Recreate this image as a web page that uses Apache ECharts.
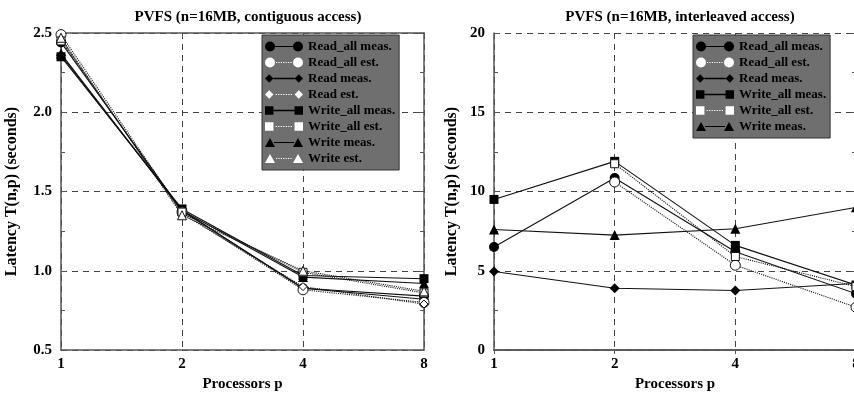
<!DOCTYPE html>
<html>
<head>
<meta charset="utf-8">
<script src="https://cdn.jsdelivr.net/npm/echarts@6/dist/echarts.min.js"></script>
<style>
  html, body { margin: 0; padding: 0; background: #fff; }
  #chart { width: 854px; height: 394px; }
</style>
</head>
<body>
<div id="chart"></div>
<script>
// Processor counts (log2-spaced x axis)
const procs = [1, 2, 4, 8];

// Contiguous access latencies (seconds)
const contReadAllMeas  = [2.44, 1.38, 0.89, 0.84];
const contReadAllEst   = [2.49, 1.37, 0.88, 0.80];
const contReadMeas     = [2.36, 1.38, 0.89, 0.82];
const contReadEst      = [2.46, 1.36, 0.90, 0.79];
const contWriteAllMeas = [2.35, 1.39, 0.97, 0.95];
const contWriteAllEst  = [2.45, 1.37, 0.99, 0.86];
const contWriteMeas    = [2.37, 1.38, 0.96, 0.92];
const contWriteEst     = [2.47, 1.35, 1.00, 0.87];

// Interleaved access latencies (seconds); estimates start at p=2
const intReadAllMeas  = [6.5, 10.85, 6.2, 3.55];
const intReadAllEst   = [null, 10.6, 5.35, 2.7];
const intReadMeas     = [4.95, 3.9, 3.75, 4.2];
const intWriteAllMeas = [9.5, 11.9, 6.6, 4.1];
const intWriteAllEst  = [null, 11.75, 5.9, 4.0];
const intWriteMeas    = [7.6, 7.25, 7.65, 9.0];

const leftTicks = [0.5, 1.0, 1.5, 2.0, 2.5];
const rightTicks = [0, 5, 10, 15, 20];

const FONT = 'Liberation Serif';

// series descriptors: marker shape, estimate (open marker + dotted line)
const kinds = {
  'Read_all meas.':  { shape: 'circle',   est: false, size: 10 },
  'Read_all est.':   { shape: 'circle',   est: true,  size: 10 },
  'Read meas.':      { shape: 'diamond',  est: false, size: 10 },
  'Read est.':       { shape: 'diamond',  est: true,  size: 8 },
  'Write_all meas.': { shape: 'rect',     est: false, size: 9 },
  'Write_all est.':  { shape: 'rect',     est: true,  size: 8 },
  'Write meas.':     { shape: 'triangle', est: false, size: 10 },
  'Write est.':      { shape: 'triangle', est: true,  size: 9 }
};

function pairs(vals) {
  return procs.map((p, i) => [p, vals[i]]);
}

function makeSeries(name, vals, idx) {
  const k = kinds[name];
  return {
    name: name,
    type: 'line',
    xAxisIndex: idx * 2,
    yAxisIndex: idx * 2,
    data: pairs(vals),
    symbol: k.shape,
    symbolSize: k.size,
    connectNulls: false,
    lineStyle: { color: '#111', width: 1.1, type: k.est ? 'dotted' : 'solid' },
    itemStyle: k.est
      ? { color: '#fff', borderColor: '#111', borderWidth: 1 }
      : { color: '#000', borderColor: '#000', borderWidth: 0 },
    emphasis: { disabled: true },
    z: k.est ? 4 : 3
  };
}

// legend glyph: marker, line, marker in a 38x10 box
function markerPath(shape, cx) {
  switch (shape) {
    case 'circle':
      return `M${cx - 5},5 A5,5 0 1,1 ${cx + 5},5 A5,5 0 1,1 ${cx - 5},5 Z `;
    case 'rect':
      return `M${cx - 4},1 L${cx + 4},1 L${cx + 4},9 L${cx - 4},9 Z `;
    case 'diamond':
      return `M${cx},1 L${cx + 4},5 L${cx},9 L${cx - 4},5 Z `;
    default:
      return `M${cx},0.5 L${cx + 5},9.5 L${cx - 5},9.5 Z `;
  }
}
function legendIcon(name) {
  const k = kinds[name];
  let d = markerPath(k.shape, 5) + markerPath(k.shape, 33);
  if (k.est) {
    for (let x = 11; x < 27.5; x += 2.4) {
      d += `M${x},4.5 L${x + 1.2},4.5 L${x + 1.2},5.5 L${x},5.5 Z `;
    }
  } else {
    d += 'M9,4.4 L29,4.4 L29,5.6 L9,5.6 Z ';
  }
  return 'path://' + d;
}
function legendData(names) {
  return names.map(n => ({
    name: n,
    icon: legendIcon(n),
    itemStyle: kinds[n].est
      ? { color: '#fff', borderWidth: 0, opacity: 1 }
      : { color: '#000', borderWidth: 0, opacity: 1 }
  }));
}

const leftNames = ['Read_all meas.', 'Read_all est.', 'Read meas.', 'Read est.',
                   'Write_all meas.', 'Write_all est.', 'Write meas.', 'Write est.'];
const rightNames = ['Read_all meas.', 'Read_all est.', 'Read meas.',
                    'Write_all meas.', 'Write_all est.', 'Write meas.'];

const labelFont = { fontFamily: FONT, fontWeight: 'bold', fontSize: 15, color: '#000' };
const xNameFont = { fontFamily: FONT, fontWeight: 'bold', fontSize: 15, color: '#000' };
const yNameFont = { fontFamily: FONT, fontWeight: 'bold', fontSize: 16, color: '#000' };
const dash = { color: '#444', width: 1, type: [6, 5] };

function xAxes(gridIndex) {
  return [
    {
      type: 'log', logBase: 2, min: 1, max: 8, gridIndex: gridIndex,
      name: 'Processors p', nameLocation: 'middle', nameGap: 26,
      nameTextStyle: xNameFont,
      axisLine: { lineStyle: { color: '#555', width: 1.5 } },
      axisTick: { show: false },
      axisLabel: Object.assign({ margin: 7, formatter: v => String(Math.round(v)) }, labelFont),
      splitLine: { show: true, lineStyle: dash },
      minorTick: { show: false }
    },
    {
      type: 'log', logBase: 2, min: 1, max: 8, gridIndex: gridIndex, position: 'top',
      axisLine: { show: true, lineStyle: { color: '#555', width: 1.5 } },
      axisTick: { show: true, inside: true, length: 4, lineStyle: { color: '#555' } },
      axisLabel: { show: false },
      splitLine: { show: false }
    }
  ];
}

function yAxes(gridIndex, min, max, interval, decimals, nameGap) {
  const common = {
    type: 'value', min: min, max: max, interval: interval, gridIndex: gridIndex,
    minorTick: { show: true, splitNumber: 2, length: 4, inside: true, lineStyle: { color: '#555' } },
    axisTick: { show: true, inside: true, length: 5, lineStyle: { color: '#555' } }
  };
  return [
    Object.assign({}, common, {
      position: 'left',
      name: 'Latency T(n,p) (seconds)', nameLocation: 'middle', nameGap: nameGap,
      nameTextStyle: yNameFont,
      axisLine: { show: true, lineStyle: { color: '#555', width: 1.5 } },
      axisLabel: Object.assign({ margin: 9, formatter: v => v.toFixed(decimals) }, labelFont),
      splitLine: { show: true, lineStyle: dash }
    }),
    Object.assign({}, common, {
      position: 'right',
      axisLine: { show: true, lineStyle: { color: '#555', width: 1.5 } },
      axisLabel: { show: false },
      splitLine: { show: false }
    })
  ];
}

const legendText = { fontFamily: FONT, fontWeight: 'bold', fontSize: 13, color: '#000', lineHeight: 13 };
function legendBox(left, names) {
  return {
    orient: 'vertical', left: left, top: 35,
    data: legendData(names),
    itemWidth: 38, itemHeight: 10, itemGap: 3,
    padding: [5, 4, 5, 3],
    backgroundColor: '#6f6f6f', borderColor: '#333', borderWidth: 1,
    textStyle: legendText,
    selectedMode: false
  };
}

const xs = xAxes(0).concat(xAxes(1));
const ys = yAxes(0, 0.5, 2.5, 0.5, 1, 41).concat(yAxes(1, 0, 20, 5, 0, 34));

const series = [
  makeSeries('Read_all meas.', contReadAllMeas, 0),
  makeSeries('Read meas.', contReadMeas, 0),
  makeSeries('Write_all meas.', contWriteAllMeas, 0),
  makeSeries('Write meas.', contWriteMeas, 0),
  makeSeries('Read_all est.', contReadAllEst, 0),
  makeSeries('Read est.', contReadEst, 0),
  makeSeries('Write_all est.', contWriteAllEst, 0),
  makeSeries('Write est.', contWriteEst, 0),
  makeSeries('Read_all meas.', intReadAllMeas, 1),
  makeSeries('Read meas.', intReadMeas, 1),
  makeSeries('Write_all meas.', intWriteAllMeas, 1),
  makeSeries('Write meas.', intWriteMeas, 1),
  makeSeries('Read_all est.', intReadAllEst, 1),
  makeSeries('Write_all est.', intWriteAllEst, 1)
];

const titleFont = { fontFamily: FONT, fontWeight: 'bold', fontSize: 15, color: '#000' };

const chart = echarts.init(document.getElementById('chart'), null, { renderer: 'canvas' });
chart.setOption({
  animation: false,
  backgroundColor: '#fff',
  title: [
    { text: 'PVFS (n=16MB, contiguous access)', left: 243, top: 5, textAlign: 'center', textStyle: titleFont },
    { text: 'PVFS (n=16MB, interleaved access)', left: 675, top: 5, textAlign: 'center', textStyle: titleFont }
  ],
  legend: [legendBox(262, leftNames), legendBox(693, rightNames)],
  grid: [
    { left: 61, top: 33, width: 363, height: 317, outerBoundsMode: 'none', containLabel: false },
    { left: 494, top: 33, width: 362, height: 317, outerBoundsMode: 'none', containLabel: false }
  ],
  xAxis: xs,
  yAxis: ys,
  series: series
});
</script>
</body>
</html>
